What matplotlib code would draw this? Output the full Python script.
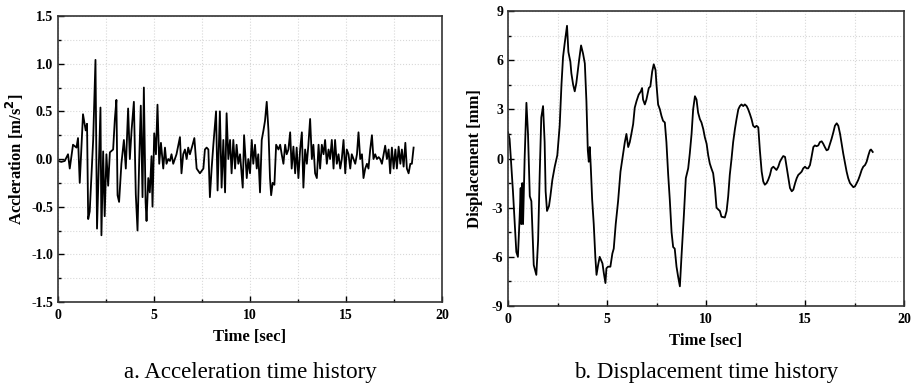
import numpy as np
import matplotlib.pyplot as plt
from matplotlib.ticker import MultipleLocator

# acceleration record [s], [m/s^2]
acc_t = [0.00, 0.17, 0.35, 0.52, 0.61, 0.78, 0.96, 1.04, 1.13, 1.30, 1.44, 1.51, 1.57, 1.65,
         1.83, 1.95, 2.03, 2.21, 2.26, 2.35, 2.43, 2.52, 2.61, 2.70, 2.87, 2.96, 3.04, 3.10,
         3.18, 3.30, 3.43, 3.53, 3.65, 3.74, 3.83, 3.95, 4.05, 4.14, 4.23, 4.31, 4.40, 4.47,
         4.56, 4.61, 4.70, 4.78, 4.87, 4.92, 5.01, 5.10, 5.18, 5.27,
         5.36, 5.48, 5.57, 5.65, 5.74, 5.83, 5.91, 6.00, 6.17, 6.35, 6.43, 6.52, 6.61, 6.70,
         6.78, 6.87, 7.01, 7.10, 7.22, 7.39, 7.57, 7.65, 7.74, 7.83, 7.91, 8.00, 8.09, 8.23,
         8.31, 8.43, 8.52, 8.61, 8.70, 8.78, 8.87, 8.96, 9.04, 9.13, 9.22, 9.30, 9.39, 9.48,
         9.62, 9.69, 9.83, 9.91, 10.00, 10.09, 10.17, 10.26, 10.35, 10.43, 10.52, 10.61,
         10.70, 10.78, 10.87, 10.96, 11.04, 11.10, 11.18, 11.27, 11.36,
         11.48, 11.57, 11.65, 11.74, 11.83, 11.91, 12.00, 12.09, 12.17, 12.26, 12.35, 12.43,
         12.52, 12.61, 12.70, 12.78, 12.87, 12.96, 13.04, 13.13, 13.22, 13.30, 13.39, 13.48,
         13.57, 13.65, 13.74, 13.83, 13.91, 14.00, 14.09, 14.17, 14.26, 14.35, 14.43, 14.52,
         14.61, 14.70, 14.78, 14.87, 14.96, 15.04, 15.13, 15.22, 15.30, 15.39, 15.48, 15.57,
         15.65, 15.74, 15.83, 15.91, 16.00, 16.09, 16.17, 16.26, 16.35, 16.43, 16.52, 16.61,
         16.70, 16.78, 16.87, 16.96, 17.04, 17.13, 17.22, 17.30, 17.39, 17.48, 17.57, 17.65,
         17.74, 17.83, 17.91, 18.00, 18.09, 18.17, 18.26, 18.35, 18.43, 18.52]
acc = [-0.02, -0.03, -0.02, 0.05, -0.10, 0.15, 0.12, 0.22, -0.25, 0.47, 0.30, 0.37, -0.63, -0.55,
       0.20, 1.04, -0.73, 0.54, -0.80, 0.08, -0.60, 0.05, -0.28, 0.07, 0.10, 0.42, 0.62, -0.38,
       -0.45, -0.05, 0.20, -0.10, 0.53, 0.00, 0.30, 0.60, -0.37, -0.75, 0.00, 0.56, -0.40, 0.75,
       -0.45, -0.65, -0.20, -0.35, 0.03, -0.50, 0.27, 0.05, 0.57, -0.05,
       0.17, -0.10, 0.12, -0.05, 0.00, -0.02, 0.05, -0.05, 0.05, 0.23, -0.15, 0.05, 0.10, 0.00,
       0.12, 0.05, 0.15, 0.22, -0.10, -0.15, -0.10, 0.10, 0.12, 0.10, -0.40, -0.10, 0.15, 0.50,
       -0.33, 0.50, -0.30, 0.20, -0.35, 0.48, 0.00, 0.20, -0.15, 0.20, -0.10, 0.15, -0.05, 0.05,
       -0.30, 0.25, -0.20, 0.00, -0.15, 0.20, -0.05, 0.15, -0.10, 0.05, -0.35, 0.20,
       0.30, 0.40, 0.60, 0.30, -0.20, -0.38, -0.25, -0.27, 0.15,
       0.10, 0.15, 0.05, -0.05, 0.15, 0.05, 0.10, 0.28, -0.10, 0.13, -0.15, 0.12,
       -0.20, 0.10, 0.28, -0.30, 0.10, -0.05, 0.15, 0.42, 0.00, 0.15, -0.15, -0.20,
       0.15, -0.10, 0.15, 0.05, 0.20, -0.05, 0.10, 0.00, 0.20, -0.10, 0.20, -0.05,
       0.05, -0.10, 0.00, 0.20, -0.15, 0.10, 0.05, -0.10, 0.05, 0.00, -0.05, 0.05,
       0.28, 0.00, 0.05, -0.20, -0.10, -0.05, -0.10, 0.10, 0.25, 0.00, 0.05, 0.00,
       0.02, 0.00, -0.05, 0.05, 0.14, 0.00, 0.10, -0.15, 0.12, -0.10, 0.10, -0.10,
       0.13, -0.05, 0.10, -0.08, 0.17, -0.10, -0.15, -0.05, -0.05, 0.12]

# displacement record [s], [mm]
dis_t = [0.00, 0.08, 0.25, 0.42, 0.50, 0.59, 0.64, 0.67, 0.72, 0.76, 0.84, 0.93, 1.01, 1.10,
         1.18, 1.30, 1.43, 1.52, 1.60, 1.68, 1.77, 1.85, 1.90, 1.97, 2.07, 2.14, 2.24, 2.36,
         2.49, 2.61, 2.70, 2.78, 2.86, 2.98, 3.05, 3.15, 3.20, 3.29, 3.37, 3.45, 3.59, 3.69,
         3.79, 3.88, 3.96, 4.03, 4.08, 4.13, 4.18, 4.25, 4.33, 4.41, 4.47, 4.55, 4.63, 4.77,
         4.84, 4.92, 4.97, 5.05, 5.17, 5.27, 5.34, 5.44, 5.56, 5.68, 5.78, 5.90, 5.98, 6.07,
         6.15, 6.23, 6.32, 6.40, 6.49, 6.60, 6.71, 6.77, 6.82, 6.91, 6.99, 7.11, 7.19, 7.28,
         7.36, 7.45, 7.50, 7.58, 7.67, 7.75, 7.83, 7.92, 8.00, 8.09, 8.17, 8.26, 8.34, 8.42,
         8.51, 8.59, 8.68, 8.76, 8.88, 8.98, 9.10, 9.18, 9.27, 9.35, 9.44, 9.52, 9.60, 9.69,
         9.77, 9.86, 9.94, 10.03, 10.11, 10.19, 10.27, 10.36, 10.45, 10.53, 10.61, 10.70,
         10.78, 10.95, 11.04, 11.12, 11.20, 11.29, 11.37, 11.46, 11.54, 11.63, 11.71, 11.79,
         11.88, 11.96, 12.05, 12.13, 12.22, 12.30, 12.38, 12.47, 12.55, 12.64, 12.72, 12.81,
         12.89, 12.97, 13.06, 13.14, 13.23, 13.31, 13.40, 13.48, 13.56, 13.65, 13.73, 13.82,
         13.90, 13.99, 14.07, 14.16, 14.24, 14.33, 14.41, 14.50, 14.58, 14.66, 14.75, 14.83,
         14.91, 15.00, 15.08, 15.16, 15.25, 15.33, 15.42, 15.50, 15.58, 15.67, 15.75, 15.84,
         15.92, 16.00, 16.09, 16.17, 16.26, 16.34, 16.43, 16.51, 16.60, 16.68, 16.77, 16.85,
         16.93, 17.02, 17.10, 17.18, 17.27, 17.44, 17.52, 17.61, 17.69, 17.78, 17.86, 17.94,
         18.03, 18.11, 18.20, 18.28, 18.33, 18.42]
dis = [1.6, 1.2, -2.0, -5.7, -6.0, -3.5, -1.8, -4.0, -1.5, -4.0, 0.0, 3.4, 1.5, -2.3,
       -2.6, -6.5, -7.1, -5.0, -1.0, 2.5, 3.2, 1.0, -2.0, -3.2, -2.9, -2.3, -1.3, -0.5,
       0.2, 2.0, 4.5, 6.2, 7.0, 8.1, 6.5, 5.9, 5.2, 4.5, 4.1, 4.6, 6.0, 6.9,
       6.4, 5.8, 3.5, 0.5, -0.2, 0.7, -0.5, -2.5, -4.0, -6.0, -7.1, -6.5, -6.0, -6.4,
       -7.0, -7.6, -6.7, -6.6, -6.6, -5.8, -5.5, -4.0, -2.6, -0.8, 0.0, 1.0, 1.5, 0.7,
       1.0, 1.5, 2.1, 3.1, 3.5, 3.9, 4.1, 4.3, 3.6, 3.3, 3.6, 4.3, 4.4, 5.3,
       5.75, 5.4, 4.5, 3.3, 3.0, 2.6, 2.3, 2.2, 1.0, -1.0, -2.5, -4.5, -5.4, -5.5,
       -6.6, -7.2, -7.8, -6.0, -3.5, -1.2, -0.6, 0.3, 1.5, 3.0, 3.8, 3.6, 2.8, 2.4,
       2.2, 1.8, 1.3, 0.9, 0.2, -0.3, -0.6, -0.9, -1.8, -3.0, -3.1, -3.2,
       -3.55, -3.6, -3.2, -2.3, -1.0, 0.0, 1.0, 1.8, 2.4, 3.0, 3.2, 3.3,
       3.2, 3.3, 3.2, 3.0, 2.7, 2.4, 2.0, 1.9, 2.0, 1.9, 0.5, -0.8,
       -1.4, -1.6, -1.5, -1.3, -1.0, -0.6, -0.5, -0.6, -0.7, -0.5, -0.2, 0.0,
       0.15, 0.1, -0.5, -1.2, -1.8, -2.0, -1.9, -1.5, -1.2, -1.0, -0.9, -0.8,
       -0.6, -0.5, -0.6, -0.6, -0.4, 0.1, 0.7, 0.8, 0.75, 0.8, 1.0, 1.05,
       0.9, 0.7, 0.5, 0.55, 0.9, 1.2, 1.6, 2.0, 2.15, 2.0, 1.5, 0.9,
       0.3, -0.3, -0.8, -1.2, -1.5, -1.75, -1.7, -1.5, -1.3, -1.0, -0.7, -0.5,
       -0.4, -0.2, 0.2, 0.5, 0.55, 0.4]

plt.rcParams['font.family'] = 'Liberation Serif'
plt.rcParams['font.weight'] = 'bold'
plt.rcParams['axes.labelweight'] = 'bold'
plt.rcParams['axes.unicode_minus'] = False

fig = plt.figure(figsize=(9.14, 3.88), dpi=100)
ax1 = fig.add_axes([0.0635, 0.2216, 0.4201, 0.7371])
ax2 = fig.add_axes([0.5558, 0.2113, 0.4333, 0.7603])


def style(ax, ymaj, ymin):
    ax.xaxis.set_major_locator(MultipleLocator(5))
    ax.xaxis.set_minor_locator(MultipleLocator(2.5))
    ax.yaxis.set_major_locator(MultipleLocator(ymaj))
    ax.yaxis.set_minor_locator(MultipleLocator(ymin))
    ax.grid(True, which='both', color='#d8d8d8', linestyle=':', linewidth=0.8)
    ax.set_axisbelow(True)
    ax.tick_params(which='both', direction='in', labelsize=10, width=1.0)
    ax.tick_params(axis='x', pad=5)
    ax.tick_params(which='major', length=4)
    ax.tick_params(which='minor', length=2)
    for sp in ax.spines.values():
        sp.set_linewidth(1.2)
        sp.set_color('#333333')
    ax.set_xlim(0, 20)
    ax.set_xlabel('Time [sec]', fontsize=12, labelpad=5)


ax1.plot(acc_t, acc, color='black', linewidth=1.3)
style(ax1, 0.5, 0.25)
ax1.set_ylim(-1.5, 1.5)
ax1.set_ylabel('Accleration [m/s$^\\mathbf{2}$]', fontsize=12, labelpad=4)
ax1.yaxis.set_major_formatter(plt.FormatStrFormatter('%.1f'))

ax2.plot(dis_t, dis, color='black', linewidth=1.3)
style(ax2, 3, 1.5)
ax2.set_ylim(-9, 9)
ax2.set_ylabel('Displacement [mm]', fontsize=12, labelpad=6)

fig.text(0.2735, 0.04, 'a. Acceleration time history', ha='center', va='center',
         fontsize=16.5, fontweight='normal')
fig.text(0.7725, 0.04, 'b. Displacement time history', ha='center', va='center',
         fontsize=16.5, fontweight='normal')

fig.savefig('out.png', dpi=100)
